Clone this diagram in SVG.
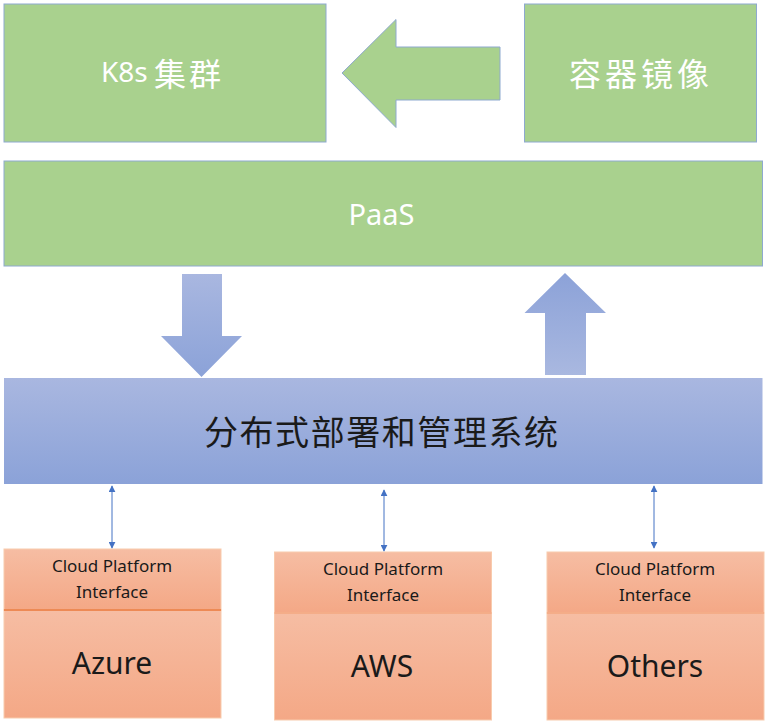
<svg xmlns="http://www.w3.org/2000/svg" width="767" height="726" viewBox="0 0 767 726">
<defs>
<style>
.green{fill:#a9d18e;stroke:#8ea9cf;stroke-width:1}
.wt{fill:#ffffff;font-family:"Noto Sans","Noto Sans CJK SC",sans-serif}
.cjk{font-family:"Noto Sans CJK SC",sans-serif}
.dk{fill:#1a1a1a;font-family:"Noto Sans","Noto Sans CJK SC",sans-serif}
.sm{font-size:17px;text-anchor:middle}
.big{font-size:30px;text-anchor:middle}
.obox{stroke:#f8cbad;stroke-width:1}
.conn{stroke:#4472c4;stroke-width:1;fill:none;marker-start:url(#ah);marker-end:url(#ah)}
</style>
<linearGradient id="gBlue" x1="0" y1="0" x2="0" y2="1">
<stop offset="0" stop-color="#a9b7e0"/>
<stop offset="1" stop-color="#8ba2d8"/>
</linearGradient>
<linearGradient id="gUp" x1="0" y1="0" x2="0" y2="1">
<stop offset="0" stop-color="#8ca2d8"/>
<stop offset="1" stop-color="#a9b8e0"/>
</linearGradient>
<linearGradient id="gOr" x1="0" y1="0" x2="0" y2="1">
<stop offset="0" stop-color="#f6bda3"/>
<stop offset="1" stop-color="#f4a886"/>
</linearGradient>
<marker id="ah" viewBox="0 0 10 10" refX="9" refY="5" markerWidth="7" markerHeight="7" orient="auto-start-reverse" markerUnits="userSpaceOnUse">
<path d="M0,0 L10,5 L0,10 Z" fill="#4472c4"/>
</marker>
</defs>

<g id="k8s">
<rect class="green" x="4" y="4" width="322" height="138"/>
<text class="wt" x="101" y="82" font-size="28"><tspan>K8s</tspan><tspan class="cjk" x="154" y="86" font-size="32" letter-spacing="3">集群</tspan></text>
</g>

<g id="image">
<rect class="green" x="524.5" y="4" width="232" height="138"/>
<text class="wt cjk" x="569" y="86" font-size="32" letter-spacing="4">容器镜像</text>
</g>

<g id="paas">
<rect class="green" x="4" y="161" width="758.5" height="105"/>
<text class="wt" x="381.5" y="225" font-size="29" text-anchor="middle">PaaS</text>
</g>

<g id="mgmt">
<rect x="4" y="378" width="758.5" height="106" fill="url(#gBlue)"/>
<text class="dk cjk" x="204" y="445" font-size="34" textLength="354" lengthAdjust="spacing">分布式部署和管理系统</text>
</g>

<g id="azure">
<rect class="obox" x="4" y="549" width="217" height="61" fill="url(#gOr)"/>
<rect class="obox" x="4" y="610" width="217" height="108" fill="url(#gOr)"/>
<line x1="4" y1="610" x2="221" y2="610" stroke="#ed8a55" stroke-width="2"/>
<text class="dk sm" x="112" y="572">Cloud Platform</text>
<text class="dk sm" x="112" y="598">Interface</text>
<text class="dk big" x="112" y="674">Azure</text>
</g>

<g id="aws">
<rect class="obox" x="274.5" y="552" width="217" height="61" fill="url(#gOr)"/>
<rect class="obox" x="274.5" y="613" width="217" height="107" fill="url(#gOr)"/>
<line x1="274.5" y1="613" x2="491.5" y2="613" stroke="#f3a67f" stroke-width="1.5"/>
<text class="dk sm" x="383" y="575">Cloud Platform</text>
<text class="dk sm" x="383" y="601">Interface</text>
<text class="dk big" x="382" y="677">AWS</text>
</g>

<g id="others">
<rect class="obox" x="547" y="552" width="217" height="61" fill="url(#gOr)"/>
<rect class="obox" x="547" y="613" width="217" height="107" fill="url(#gOr)"/>
<line x1="547" y1="613" x2="764" y2="613" stroke="#f3a67f" stroke-width="1.5"/>
<text class="dk sm" x="655" y="575">Cloud Platform</text>
<text class="dk sm" x="655" y="601">Interface</text>
<text class="dk big" x="655" y="677">Others</text>
</g>

<g id="connectors">
<path d="M342,73 L396,19.5 L396,47 L500,47 L500,100 L396,100 L396,127.5 Z" fill="#a9d18e" stroke="#8ea9cf" stroke-width="1"/>
<path d="M182,274 L222,274 L222,336 L242,336 L201.5,377 L161,336 L182,336 Z" fill="url(#gBlue)"/>
<path d="M565,273 L606,313 L586,313 L586,375 L545,375 L545,313 L524.5,313 Z" fill="url(#gUp)"/>
<line class="conn" x1="112" y1="486" x2="112" y2="548"/>
<line class="conn" x1="384" y1="490" x2="384" y2="551"/>
<line class="conn" x1="654" y1="486" x2="654" y2="548"/>
</g>
</svg>
